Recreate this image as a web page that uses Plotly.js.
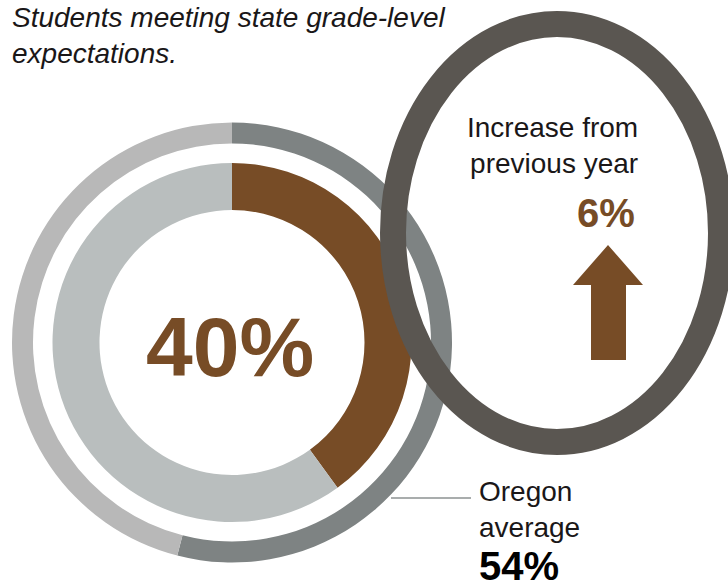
<!DOCTYPE html>
<html>
<head>
<meta charset="utf-8">
<script src="https://cdn.plot.ly/plotly-3.0.1.min.js"></script>
<style>
  html, body { margin: 0; padding: 0; background: #ffffff; }
  #chart { width: 728px; height: 587px; }
</style>
</head>
<body>
<div id="chart"></div>
<script>
// ---- data ----
const categories = ['Meeting expectations', 'Not meeting expectations'];
const schoolValues = [40, 60];
const oregonValues = [54, 46];
const increaseValue = 6;
const titleLines = ['Students meeting state grade-level', 'expectations.'];
const increaseLabel = ['Increase from', 'previous year'];
const oregonLabel = ['Oregon', 'average'];

// ---- layout helpers ----
const W = 728, H = 587;
const px = x => x / W;
const py = y => 1 - y / H;

const brown = '#774C26';
const font = 'Liberation Sans, Arial, sans-serif';

// donut geometry (pixels)
const cx = 232, cy = 342.5;
const outerR = 220, outerHoleR = 199;
const innerR = 179.5, innerHoleR = 132.5;

const traces = [
  {
    type: 'pie',
    labels: categories,
    values: oregonValues,
    sort: false,
    direction: 'clockwise',
    rotation: 0,
    hole: outerHoleR / outerR,
    marker: { colors: ['#7E8383', '#B8B8B8'], line: { width: 0 } },
    textinfo: 'none',
    hoverinfo: 'label+percent',
    showlegend: false,
    domain: { x: [px(cx - outerR), px(cx + outerR)], y: [py(cy + outerR), py(cy - outerR)] }
  },
  {
    type: 'pie',
    labels: categories,
    values: schoolValues,
    sort: false,
    direction: 'clockwise',
    rotation: 0,
    hole: innerHoleR / innerR,
    marker: { colors: [brown, '#B9BEBE'], line: { width: 0 } },
    textinfo: 'none',
    hoverinfo: 'label+percent',
    showlegend: false,
    domain: { x: [px(cx - innerR), px(cx + innerR)], y: [py(cy + innerR), py(cy - innerR)] }
  }
];

// ellipse (stroke centerline)
const ex = 557, ey = 233, erx = 164, ery = 209;

// arrow polygon in pixels
const arrowPts = [[608, 245], [643, 285], [626, 285], [626, 360], [591, 360], [591, 285], [573, 285]];
const arrowPath = 'M ' + arrowPts.map(p => px(p[0]) + ',' + py(p[1])).join(' L ') + ' Z';

const layout = {
  width: W, height: H,
  margin: { l: 0, r: 0, t: 0, b: 0 },
  paper_bgcolor: '#ffffff',
  plot_bgcolor: '#ffffff',
  font: { family: font, color: '#231F20' },
  shapes: [
    {
      type: 'circle', xref: 'paper', yref: 'paper',
      x0: px(ex - erx), x1: px(ex + erx), y0: py(ey + ery), y1: py(ey - ery),
      line: { color: '#5A5651', width: 26 }, layer: 'above'
    },
    {
      type: 'path', xref: 'paper', yref: 'paper', path: arrowPath,
      fillcolor: brown, line: { width: 0 }, layer: 'above'
    },
    {
      type: 'line', xref: 'paper', yref: 'paper',
      x0: px(391), x1: px(471), y0: py(498), y1: py(498),
      line: { color: '#A9ADAD', width: 2 }, layer: 'above'
    }
  ],
  annotations: [
    {
      text: '<i>' + titleLines.join('<br>') + '</i>',
      xref: 'paper', yref: 'paper', x: px(10), y: py(0),
      xanchor: 'left', yanchor: 'top', align: 'left', showarrow: false,
      font: { family: font, size: 28, color: '#1A1718' }
    },
    {
      text: '<b>' + schoolValues[0] + '%</b>',
      xref: 'paper', yref: 'paper', x: px(cx - 2), y: py(347),
      xanchor: 'center', yanchor: 'middle', showarrow: false,
      font: { family: font, size: 84, color: brown }
    },
    {
      text: increaseLabel.join('<br>'),
      xref: 'paper', yref: 'paper', x: px(640), y: py(146),
      xanchor: 'right', yanchor: 'middle', align: 'right', showarrow: false,
      font: { family: font, size: 28, color: '#1A1718' }
    },
    {
      text: '<b>' + increaseValue + '%</b>',
      xref: 'paper', yref: 'paper', x: px(637), y: py(213),
      xanchor: 'right', yanchor: 'middle', showarrow: false,
      font: { family: font, size: 40, color: brown }
    },
    {
      text: oregonLabel.join('<br>'),
      xref: 'paper', yref: 'paper', x: px(477), y: py(509),
      xanchor: 'left', yanchor: 'middle', align: 'left', showarrow: false,
      font: { family: font, size: 28, color: '#1A1718' }
    },
    {
      text: '<b>' + oregonValues[0] + '%</b>',
      xref: 'paper', yref: 'paper', x: px(477), y: py(566),
      xanchor: 'left', yanchor: 'middle', showarrow: false,
      font: { family: font, size: 40, color: '#000000' }
    }
  ]
};

Plotly.newPlot('chart', traces, layout, { displayModeBar: false, staticPlot: true });
</script>
</body>
</html>
